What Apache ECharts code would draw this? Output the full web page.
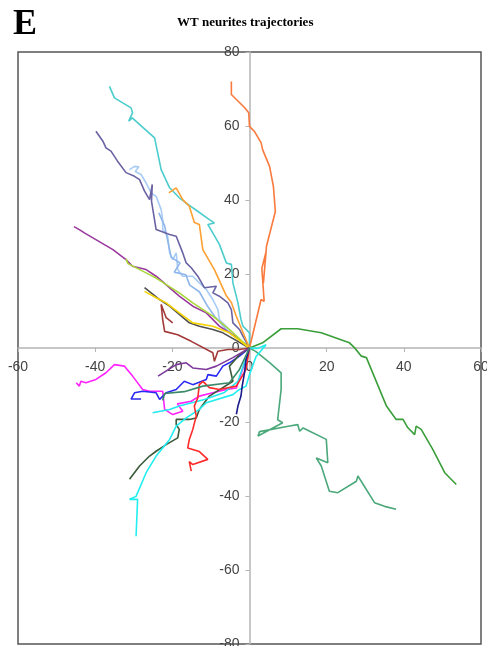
<!DOCTYPE html>
<html>
<head>
<meta charset="utf-8">
<title>WT neurites trajectories</title>
<script src="https://cdn.jsdelivr.net/npm/echarts@6/dist/echarts.min.js"></script>
<style>
  html, body { margin: 0; padding: 0; background: #fff; }
  #chart { width: 487px; height: 646px; }
</style>
</head>
<body>
<div id="chart"></div>
<script>
// trajectories, [x, y] in microns
const orangeRed = [[0,0],[3.0,13.1],[3.8,12.6],[3.2,21.5],[4.3,26],[3.6,17.5],[4.4,27.5],[6.7,36.9],[6.2,43.6],[5.2,49.1],[3.4,53.6],[3.0,55.5],[1.3,58.5],[0,59.9],[-0.2,63.6],[-1.3,65],[-4.7,68.5],[-4.7,72]]
const orange = [[0,0],[-3.4,8.5],[-4.7,12.3],[-6.0,14.1],[-9.1,21.2],[-12.1,26.6],[-13.0,33.4],[-14.3,33.9],[-13.8,34.3],[-15.6,38.3],[-17.3,40.1],[-19.0,43.3],[-20.9,41.9]]
const turquoise = [[-36.3,70.7],[-35.0,67.6],[-30.7,64.9],[-30.3,63.6],[-31.3,61.3],[-30.4,62.2],[-24.6,56.8],[-22.9,48.2],[-20.7,43.3],[-18.2,40.6],[-14.7,37.9],[-10.4,34.7],[-9.1,33.8],[-10.8,33.4],[-7.8,28.0],[-6.0,23.0],[-4.7,22.6],[-4.3,17.6],[-3.0,12.2],[-2.2,7.7],[-1.7,5.9],[0,4.1],[0,0]]
const slatePurple = [[-39.8,58.6],[-38.0,55.9],[-37.2,54.1],[-37.6,53.6],[-35.9,53.2],[-34.2,50.5],[-32.0,47.4],[-29.8,46.4],[-28.5,45.5],[-27.2,42.4],[-25.9,40.1],[-25.2,44.2],[-25.4,39.7],[-24.2,32.0],[-20.7,30.7],[-19.0,30.2],[-17.3,25.7],[-16.4,23.0],[-15.1,21.7],[-13.4,19.4],[-11.7,16.3],[-8.6,16.7],[-9.5,14.9],[-7.8,14.0],[-5.6,12.2],[-4.7,10.4],[-4.3,6.8],[-2.6,5.0],[-1.7,3.2],[0,0]]
const lightBlue = [[-31.1,48.2],[-29.8,49.1],[-28.7,49.0],[-29.6,47.7],[-28.1,46.9],[-26.8,44.6],[-25.5,41.9],[-24.2,41.0],[-22.9,37.4],[-22.5,34.7],[-22.5,32.0],[-21.2,30.2],[-20.7,25.7],[-19.9,23.9],[-19.0,25.7],[-18.6,21.2],[-17.3,19.4],[-14.7,19.4],[-13.0,17.6],[-11.2,15.8],[-9.5,13.1],[-8.2,10.4],[-7.8,7.7],[-5.2,5.0],[-2.6,2.3],[0,0]]
const skyBlue = [[-23.5,36.5],[-22.0,33.0],[-21.0,28.0],[-20.3,24.5],[-18.0,23.0],[-19.5,20.5],[-16.5,19.8],[-15.5,17.0],[-13.0,15.2],[-11.0,11.5],[-9.0,8.5],[-6.0,5.0],[0,0]]
const purple = [[-45.5,32.8],[-44.1,32.0],[-42.8,31.1],[-35.4,26.6],[-32.0,23.9],[-30.3,22.1],[-26.8,21.2],[-24.2,19.4],[-18.2,14.0],[-14.7,11.3],[-11.2,9.5],[-7.8,5.9],[-2.6,2.3],[0,0]]
const yellowGreen = [[-32.0,24.1],[-31.5,22.8],[-26.8,20.3],[-24.2,18.9],[-18.2,14.9],[-14.7,12.2],[-9.5,8.6],[-5.2,5.0],[0,0]]
const darkGray = [[-27.2,16.3],[-23.3,13.1],[-20.7,11.3],[-15.6,6.8],[-13.0,5.9],[-9.5,5.0],[-6.9,4.1],[0,0]]
const yellow = [[-27.2,15.3],[-24.2,13.6],[-21.6,12.2],[-18.2,9.5],[-14.7,6.8],[-9.5,5.9],[-5.2,4.1],[0,0]]
const brown = [[-19.9,6.8],[-21.6,8.2],[-22.9,11.8],[-22.5,7.7],[-22.0,4.5],[-18.6,3.6],[-15.1,1.8],[-9.5,-1.3],[-9.1,-3.6],[-8.2,-0.9],[-5.6,-0.4],[-2.6,-0.4],[0,0]]
const magenta = [[-44.9,-9.4],[-44.1,-10.3],[-43.7,-9.0],[-42.4,-9.4],[-39.8,-8.5],[-37.2,-6.7],[-35.0,-4.5],[-32.4,-4.9],[-30.3,-7.6],[-27.7,-11.2],[-25.9,-11.7],[-22.5,-11.7],[-22.0,-16.6],[-19.9,-18.0],[-17.3,-17.1],[-18.7,-15.1],[-15.1,-14.4],[-13.0,-13.0],[-9.5,-12.1],[-6.0,-11.2],[-3.4,-10.8],[-1.8,-5.8],[0,0]]
const blue = [[-28.1,-13.8],[-30.7,-13.8],[-29.8,-12.1],[-27.7,-11.7],[-24.2,-12.1],[-23.3,-13.9],[-21.6,-12.1],[-19.0,-11.2],[-16.9,-9.0],[-14.7,-9.9],[-11.2,-8.5],[-10.8,-7.2],[-8.6,-7.6],[-6.9,-4.9],[-5.2,-4.0],[-2.6,-2.2],[0,0]]
const darkGreen = [[-31.1,-35.5],[-28.5,-31.9],[-25.9,-29.2],[-24.2,-27.9],[-21.6,-26.1],[-18.6,-24.3],[-18.2,-22.0],[-19.0,-20.7],[-19.0,-19.3],[-15.6,-19.3],[-13.8,-18.9],[-13.0,-16.6],[-10.4,-13.0],[-4.3,-9.0],[-5.2,-4.9],[-2.6,-1.8],[0,0]]
const cyan = [[-29.4,-50.9],[-29.0,-40.9],[-31.1,-40.9],[-29.4,-40.1],[-26.8,-33.7],[-24.2,-29.2],[-20.7,-24.7],[-19.0,-21.1],[-16.4,-18.9],[-13.0,-16.6],[-11.2,-14.8],[-4.3,-12.6],[-2.6,-11.2],[-0.9,-10.3],[0,-7.2],[1.7,-2.3],[4.3,0.9],[2.1,-0.1],[0,0]]
const cyan2 = [[-25.1,-17.5],[-20.7,-16.6],[-18.2,-15.7],[-11.7,-13.9],[-6.5,-12.0],[-3.0,-9.0],[0,0]]
const red = [[-15.1,-33.3],[-15.6,-30.7],[-14.7,-31.5],[-10.8,-30.1],[-13.0,-28.0],[-16.0,-27.0],[-15.6,-24.7],[-14.7,-22.0],[-13.8,-18.4],[-14.3,-15.7],[-13.4,-13.5],[-13.0,-9.9],[-12.1,-9.0],[-10.4,-10.7],[-7.8,-11.2],[-3.4,-10.3],[-0.9,-5.8],[0,0]]
const navy = [[-3.4,-17.9],[-3.0,-15.7],[-2.2,-12.9],[-1.9,-10.3],[-1.3,-6.7],[-0.9,-3.1],[0,0]]
const violet = [[-23.7,-7.6],[-19.0,-4.5],[-16.4,-4.0],[-14.7,-5.4],[-11.2,-5.8],[-8.6,-4.9],[-4.3,-2.6],[0,0]]
const teal = [[-22.5,-14.2],[-22.0,-12.3],[-16.9,-11.8],[-12.1,-10.3],[-5.2,-9.4],[-2.6,-5.8],[0,0]]
const green = [[0,0],[3.4,1.4],[8.2,5.2],[12.5,5.2],[18.6,4.1],[25.9,1.4],[27.2,0.1],[29.0,-2.2],[30.3,-2.6],[35.5,-15.7],[38.0,-19.3],[39.8,-19.3],[41.0,-21.5],[42.8,-23.4],[43.2,-21.1],[44.5,-22.0],[47.5,-27.4],[50.6,-33.7],[53.6,-36.9]]
const seaGreen = [[0,0],[1.6,-0.9],[5.3,-4.0],[8.2,-6.7],[8.2,-11.2],[7.3,-19.4],[8.6,-20.2],[2.2,-23.8],[2.6,-22.6],[10.4,-21.1],[12.5,-20.7],[13.0,-22.5],[13.9,-21.6],[19.9,-24.7],[20.3,-31.0],[17.3,-29.7],[18.6,-31.9],[20.7,-38.7],[22.9,-39.1],[27.7,-36.0],[28.1,-34.6],[32.4,-41.8],[35.0,-42.8],[38.0,-43.6]]

const tracks = [
  [green, '#3A9E3A'], [seaGreen, '#4AA87A'],
  [turquoise, '#4CCCCC'], [lightBlue, '#A8CCF4'], [skyBlue, '#8FB6EA'],
  [slatePurple, '#6A63A3'], [orange, '#FFA032'], [orangeRed, '#F97A3C'],
  [purple, '#9A3A9E'], [yellowGreen, '#A8D838'], [darkGray, '#505050'],
  [yellow, '#F4D400'], [brown, '#A33A3A'], [magenta, '#FF22FF'],
  [blue, '#2A2AF0'], [darkGreen, '#3A5A3A'], [cyan, '#22EEF0'],
  [cyan2, '#22E8F0'], [red, '#FF2A2A'], [navy, '#1A1A8A'],
  [violet, '#7E3A9A'], [teal, '#3A8A6A']
]

// grid box; the axes are shifted from its edges onto the zero lines
const gridBox = { left: 18, right: 6, top: 52, bottom: 2 }
const plotW = 487 - gridBox.left - gridBox.right
const plotH = 646 - gridBox.top - gridBox.bottom

const axisCommon = {
  type: 'value',
  axisLine: { onZero: false, lineStyle: { color: '#b4b4b4', width: 1.5 } },
  axisTick: { show: true, length: 4, lineStyle: { color: '#b4b4b4' } },
  splitLine: { show: false }
}
const labelStyle = { color: '#444', fontFamily: 'Liberation Sans', fontSize: 14 }

const chart = echarts.init(document.getElementById('chart'))

chart.setOption({
  animation: false,
  title: [
    {
      text: 'E', left: 8, top: 2,
      textStyle: { fontFamily: 'Liberation Serif', fontWeight: 'bold', fontSize: 36, color: '#000' }
    },
    {
      text: 'WT neurites trajectories', left: 172, top: 11,
      textStyle: { fontFamily: 'Liberation Serif', fontWeight: 'bold', fontSize: 13, color: '#000' }
    }
  ],
  grid: Object.assign({
    show: true, borderColor: '#555', borderWidth: 1.5,
    outerBoundsMode: 'none'
  }, gridBox),
  xAxis: Object.assign({}, axisCommon, {
    min: -60, max: 60, interval: 20,
    position: 'bottom', offset: -plotH / 2,
    axisLabel: Object.assign({ margin: 12 }, labelStyle)
  }),
  yAxis: Object.assign({}, axisCommon, {
    min: -80, max: 80, interval: 20,
    position: 'left', offset: -plotW / 2,
    axisLabel: Object.assign({ margin: 10 }, labelStyle)
  }),
  series: tracks.map(([data, color]) => ({
    type: 'line',
    data: data,
    showSymbol: false,
    lineStyle: { color: color, width: 1.6 },
    itemStyle: { color: color }
  }))
})
</script>
</body>
</html>
